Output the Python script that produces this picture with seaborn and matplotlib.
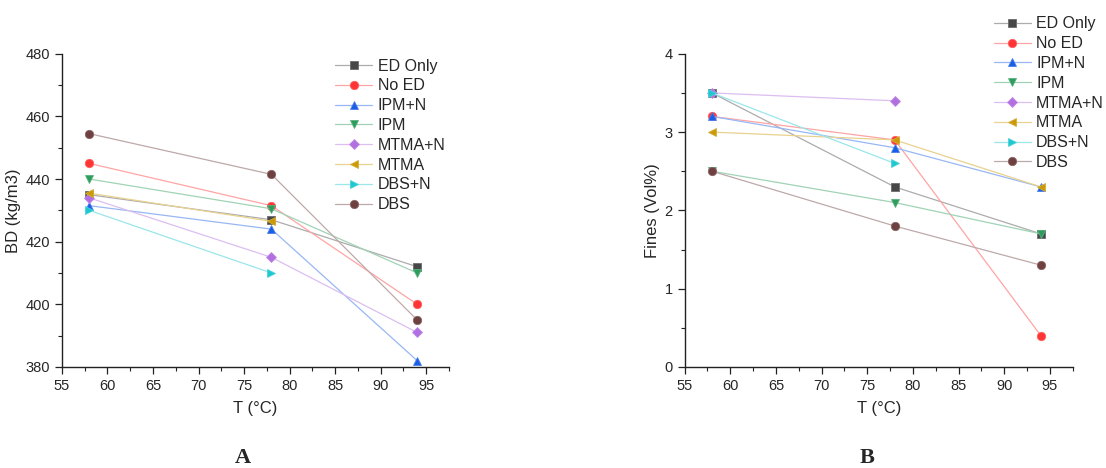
import numpy as np
import pandas as pd
import seaborn as sns
from matplotlib import pyplot as plt
from matplotlib.ticker import MultipleLocator

temps = [58, 78, 94]
series = ['ED Only', 'No ED', 'IPM+N', 'IPM', 'MTMA+N', 'MTMA', 'DBS+N', 'DBS']

bd = {
    'ED Only': [435, 427, 412],
    'No ED': [445, 431.5, 400],
    'IPM+N': [431.5, 424, 382],
    'IPM': [440, 430.5, 410],
    'MTMA+N': [434, 415, 391],
    'MTMA': [435.5, 426.5, np.nan],
    'DBS+N': [430, 410, np.nan],
    'DBS': [454.5, 441.5, 395],
}

fines = {
    'ED Only': [3.5, 2.3, 1.7],
    'No ED': [3.2, 2.9, 0.4],
    'IPM+N': [3.2, 2.8, 2.3],
    'IPM': [2.5, 2.1, 1.7],
    'MTMA+N': [3.5, 3.4, np.nan],
    'MTMA': [3.0, 2.9, 2.3],
    'DBS+N': [3.5, 2.6, np.nan],
    'DBS': [2.5, 1.8, 1.3],
}

marker_colors = ['#474747', '#ff3535', '#1a5ee6', '#2c9d5c', '#b26fe0', '#cc9a06', '#1fc8d0', '#6e4040']
markers = ['s', 'o', '^', 'v', 'D', '<', '>', 'o']
msizes = [5.2, 6, 6, 6, 5.2, 6, 6, 6]

sns.set_style('white')
plt.rcParams['font.family'] = ['Liberation Sans', 'DejaVu Sans']


def lighten(c, amt):
    rgb = np.array(plt.matplotlib.colors.to_rgb(c))
    return tuple(rgb + (1 - rgb) * amt)


def draw_panel(ax, data, ylabel):
    for i, name in enumerate(series):
        df = pd.DataFrame({'T': temps, 'v': data[name]}).dropna()
        c = marker_colors[i]
        sns.lineplot(data=df, x='T', y='v', ax=ax, label=name,
                     color=lighten(c, 0.55), lw=0.9,
                     marker=markers[i], markersize=msizes[i],
                     markerfacecolor=c, markeredgecolor=lighten(c, 0.2),
                     markeredgewidth=0.6)
    ax.set_xlim(55, 97.5)
    ax.xaxis.set_major_locator(MultipleLocator(5))
    ax.xaxis.set_minor_locator(MultipleLocator(2.5))
    ax.set_xlabel('T (°C)', fontsize=12, labelpad=6)
    ax.set_ylabel(ylabel, fontsize=12, labelpad=3)
    sns.despine(ax=ax)
    for s in ['left', 'bottom']:
        ax.spines[s].set_color('#222222')
        ax.spines[s].set_linewidth(1.0)
    ax.tick_params(which='major', direction='out', length=5, width=0.9,
                   labelsize=10.5, color='#222222', left=True, bottom=True)
    ax.tick_params(which='minor', direction='out', length=3, width=0.8,
                   color='#222222', left=True, bottom=True)


fig = plt.figure(figsize=(11.06, 4.68), dpi=100)
ax_a = fig.add_axes([0.056, 0.216, 0.350, 0.669])
ax_b = fig.add_axes([0.619, 0.216, 0.351, 0.669])

leg_kw = dict(loc='upper left', frameon=False, fontsize=11.5, labelspacing=0.3,
              handlelength=2.3, handletextpad=0.35, borderaxespad=0)

draw_panel(ax_a, bd, 'BD (kg/m3)')
ax_a.set_ylim(380, 480)
ax_a.yaxis.set_major_locator(MultipleLocator(20))
ax_a.yaxis.set_minor_locator(MultipleLocator(10))
ax_a.legend(bbox_to_anchor=(0.69, 1.005), **leg_kw)

draw_panel(ax_b, fines, 'Fines (Vol%)')
ax_b.set_ylim(0, 4)
ax_b.yaxis.set_major_locator(MultipleLocator(1))
ax_b.yaxis.set_minor_locator(MultipleLocator(0.5))
ax_b.legend(bbox_to_anchor=(0.78, 1.14), **leg_kw)

fig.text(0.22, 0.022, 'A', fontsize=16, fontweight='bold',
         family=['Liberation Serif', 'DejaVu Serif'], ha='center', va='center')
fig.text(0.784, 0.022, 'B', fontsize=16, fontweight='bold',
         family=['Liberation Serif', 'DejaVu Serif'], ha='center', va='center')

fig.savefig('out.png', dpi=100)
